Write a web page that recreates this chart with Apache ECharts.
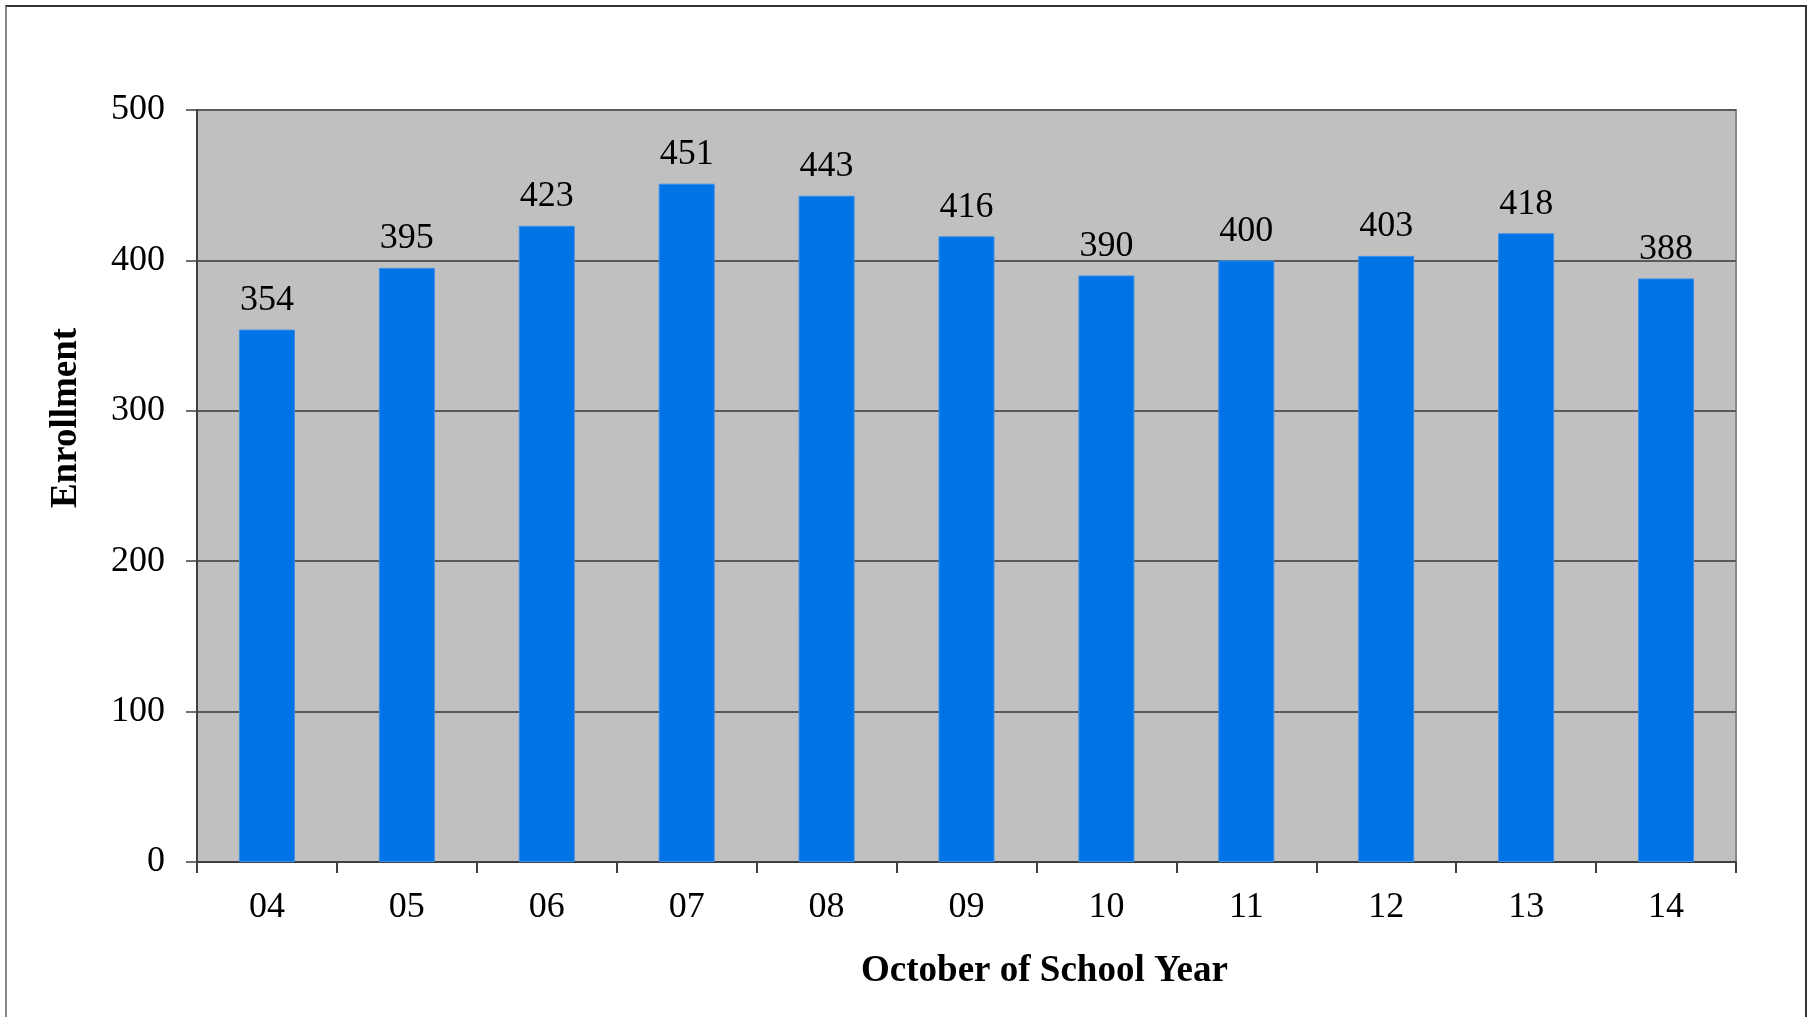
<!DOCTYPE html>
<html>
<head>
<meta charset="utf-8">
<script src="https://cdn.jsdelivr.net/npm/echarts@6/dist/echarts.min.js"></script>
<style>
  html, body { margin: 0; padding: 0; background: #fff; }
  #frame { position: absolute; left: 5px; top: 5px; width: 1802px; height: 1030px;
           border-top: 2px solid #333; border-right: 2px solid #333; border-left: 2px solid #888; box-sizing: border-box; }
  #chart { position: absolute; left: 0; top: 0; width: 1813px; height: 1017px; }
</style>
</head>
<body>
<div id="frame"></div>
<div id="chart"></div>
<script>
const categories = ['04', '05', '06', '07', '08', '09', '10', '11', '12', '13', '14'];
const enrollment = [354, 395, 423, 451, 443, 416, 390, 400, 403, 418, 388];
const yTicks = { min: 0, max: 500, interval: 100 };

const serif = '"Liberation Serif", "Times New Roman", serif';
const chart = echarts.init(document.getElementById('chart'), null, { renderer: 'canvas' });
chart.setOption({
  animation: false,
  backgroundColor: 'transparent',
  grid: {
    left: 197, top: 110, right: 77, bottom: 155,
    show: true, backgroundColor: '#C0C0C0', borderColor: '#888', borderWidth: 2
  },
  xAxis: {
    type: 'category',
    data: categories,
    boundaryGap: true,
    axisLine: { show: true, lineStyle: { color: '#404040', width: 2 } },
    axisTick: { show: true, alignWithLabel: false, length: 11, lineStyle: { color: '#404040', width: 2 } },
    axisLabel: { color: '#000', fontFamily: serif, fontSize: 36, margin: 28 },
    splitLine: { show: false },
    name: 'October of School Year',
    nameLocation: 'middle',
    nameGap: 91,
    nameTextStyle: { color: '#000', fontFamily: serif, fontSize: 37, fontWeight: 'bold', padding: [0, 0, 0, 156] }
  },
  yAxis: {
    type: 'value',
    min: yTicks.min, max: yTicks.max, interval: yTicks.interval,
    axisLine: { show: true, lineStyle: { color: '#404040', width: 2 } },
    axisTick: { show: true, inside: false, length: 11, lineStyle: { color: '#404040', width: 1.5 } },
    axisLabel: { color: '#000', fontFamily: serif, fontSize: 36, margin: 32 },
    splitLine: { show: true, lineStyle: { color: '#5a5a5a', width: 2 } },
    name: 'Enrollment',
    nameLocation: 'middle',
    nameRotate: 90,
    nameGap: 112,
    nameTextStyle: { color: '#000', fontFamily: serif, fontSize: 37, fontWeight: 'bold', padding: [0, 0, 0, 136] }
  },
  series: [{
    type: 'bar',
    data: enrollment,
    barWidth: 56,
    itemStyle: { color: '#0073E6', borderColor: '#3a8ee8', borderWidth: 1 },
    label: { show: true, position: 'top', distance: 11, color: '#000', fontFamily: serif, fontSize: 36 }
  }]
});
</script>
</body>
</html>
